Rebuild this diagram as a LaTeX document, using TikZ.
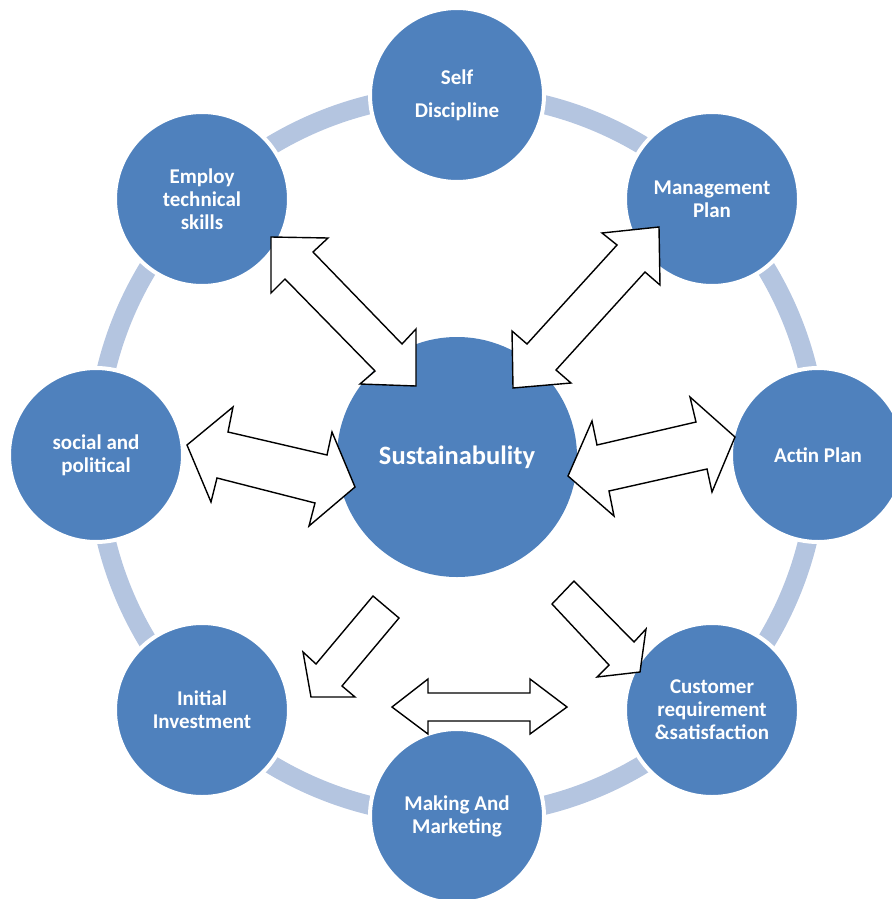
\documentclass[tikz,border=0pt]{standalone}
\usepackage{fontspec}
\setmainfont{Carlito}
\usepackage{tikz}
\usetikzlibrary{positioning}

\definecolor{circleblue}{RGB}{79,129,189}
\definecolor{ringblue}{RGB}{180,197,224}

\tikzset{
  outer/.style={circle,fill=circleblue,draw=white,line width=4pt,minimum size=174pt,inner sep=0pt,text=white,align=center,font=\bfseries\fontsize{21}{23}\selectfont},
  blockarrow/.style={draw=black,fill=white,line width=1.4pt,line join=miter}
}

\begin{document}
\begin{tikzpicture}[x=1pt,y=-1pt]

\useasboundingbox(0,0)rectangle(891,899);

%RING
\coordinate(mid)at(457,455);
\draw[draw=ringblue,line width=19pt](mid)circle[radius=361pt];

%CENTER
\node[circle,fill=circleblue,minimum size=240pt,inner sep=0pt,text=white,font=\bfseries\fontsize{26.5}{30}\selectfont](SUS-node)at(457,457){Sustainabulity};

%OUTER
\node[outer](SD-node) at(457,95){Self\\[10pt]Discipline};
\node[outer](MP-node) at(712,199){Management\\Plan};
\node[outer](AP-node) at(818,455){Actin Plan};
\node[outer](CRS-node)at(712,710){Customer\\requirement\\\&satisfaction};
\node[outer](MM-node) at(457,816){Making And\\Marketing};
\node[outer](II-node) at(202,710){Initial\\Investment};
\node[outer](SP-node) at(96,455){social and\\political};
\node[outer](ETS-node)at(202,199){Employ\\technical\\skills};

%ARROWS
%Employ <-> Sustainabulity
\draw[blockarrow](271,237)--(328,238)--(313,252)--(402,344)--(416,329)--(416,386)--(360,384)--(375,371)--(285,279)--(271,293)--cycle;
%Management <-> Sustainabulity
\draw[blockarrow](659,227)--(602,233)--(617,245)--(527,344)--(512,331)--(513,388)--(571,383)--(556,370)--(645,272)--(660,285)--cycle;
%social <-> Sustainabulity
\draw[blockarrow](187,445)--(233,407)--(228,432)--(327,455)--(332,432)--(355,487)--(309,526)--(315,503)--(217,478)--(211,502)--cycle;
%Sustainabulity <-> Actin
\draw[blockarrow](568,476)--(592,421)--(597,445)--(696,422)--(690,397)--(735,437)--(712,492)--(707,469)--(609,491)--(614,516)--cycle;
%Sustainabulity -> Initial
\draw[blockarrow](373,596)--(399,618)--(342,686)--(355,697)--(311,697)--(303,652)--(316,664)--cycle;
%Sustainabulity -> Customer
\draw[blockarrow](552,604)--(574,581)--(634,642)--(646,629)--(640,672)--(597,677)--(609,665)--cycle;
%Initial <-> Customer
\draw[blockarrow](392,707)--(428,679)--(428,693)--(530,693)--(530,679)--(567,707)--(530,734)--(530,721)--(428,721)--(428,734)--cycle;

\end{tikzpicture}
\end{document}
